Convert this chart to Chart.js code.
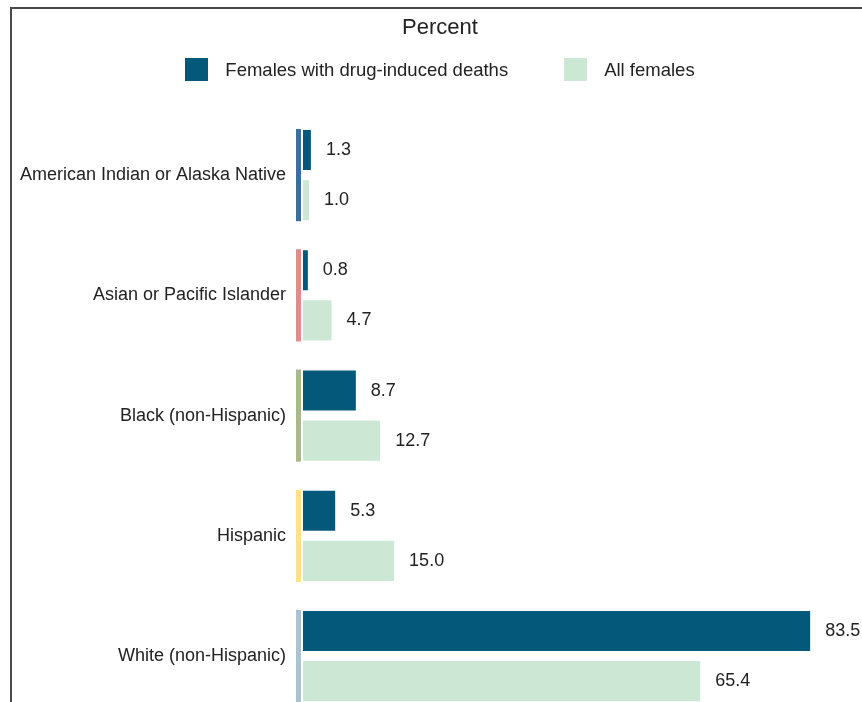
<!DOCTYPE html>
<html>
<head>
<meta charset="utf-8">
<script src="https://cdn.jsdelivr.net/npm/chart.js@4.4.1/dist/chart.umd.min.js"></script>
<style>
    body { margin: 0; width: 862px; height: 702px; overflow: hidden; background: #fff; font-family: "Liberation Sans", Arial, sans-serif; color: #222; }
    #frame { position: absolute; left: 10px; top: 7px; width: 1000px; height: 1000px; border: 2px solid #4a4a4a; }
    #title { position: absolute; left: 0; top: 0; width: 880px; height: 54px; line-height: 54px; text-align: center; font-size: 22px; }
    #legend { position: absolute; left: 0; top: 58px; width: 880px; height: 23px; display: flex; justify-content: center; align-items: center; font-size: 18.5px; }
    .item { display: flex; align-items: center; margin: 0 28px; }
    .swatch { width: 23px; height: 23px; margin-right: 17px; }
    #wrap { position: absolute; left: 0; top: 0; }
</style>
</head>
<body>
<div id="frame"></div>
<div id="wrap"><canvas id="chartRace" width="880" height="736"></canvas></div>
<div id="title">Percent</div>
<div id="legend"></div>
<script>
var categories = ["American Indian or Alaska Native", "Asian or Pacific Islander", "Black (non-Hispanic)", "Hispanic", "White (non-Hispanic)"];
var drugDeaths = [1.3, 0.8, 8.7, 5.3, 83.5];
var allFemales = [1.0, 4.7, 12.7, 15.0, 65.4];
var seriesNames = ["Females with drug-induced deaths", "All females"];
var seriesColors = ["#04597a", "#cde7d5"];
var groupColors = ["#3b6fa0", "#e28b8b", "#a9b98b", "#fde28a", "#a9c3d0"];

// legend in html
var legendBox = document.getElementById('legend');
for (var i = 0; i < seriesNames.length; i++) {
    var item = document.createElement('div');
    item.className = 'item';
    item.innerHTML = '<span class="swatch" style="background:' + seriesColors[i] + '"></span><span>' + seriesNames[i] + '</span>';
    legendBox.appendChild(item);
}

// coloured strip left of each group
var groupStrips = {
    id: 'groupStrips',
    afterDatasetsDraw: function (chart) {
        var ctx = chart.ctx;
        var first = chart.getDatasetMeta(0).data;
        var last = chart.getDatasetMeta(1).data;
        var left = chart.chartArea.left;
        for (var i = 0; i < categories.length; i++) {
            var top = first[i].y - first[i].height / 2 - 1;
            var bottom = last[i].y + last[i].height / 2 + 1;
            ctx.fillStyle = groupColors[i];
            ctx.fillRect(left - 7, top, 5, bottom - top);
        }
    }
};

var valueLabels = {
    id: 'valueLabels',
    afterDatasetsDraw: function (chart) {
        var ctx = chart.ctx;
        ctx.save();
        ctx.font = '18px "Liberation Sans", Arial, sans-serif';
        ctx.fillStyle = '#222';
        ctx.textBaseline = 'middle';
        chart.data.datasets.forEach(function (ds, d) {
            chart.getDatasetMeta(d).data.forEach(function (bar, i) {
                ctx.fillText(ds.data[i].toFixed(1), bar.x + 15, bar.y);
            });
        });
        ctx.restore();
    }
};

new Chart("chartRace", {
    type: "bar",
    data: {
        labels: categories,
        datasets: [
            { label: seriesNames[0], data: drugDeaths, backgroundColor: seriesColors[0] },
            { label: seriesNames[1], data: allFemales, backgroundColor: seriesColors[1] }
        ]
    },
    options: {
        indexAxis: 'y',
        responsive: false,
        animation: false,
        barPercentage: 0.8,
        categoryPercentage: 100 / 120,
        layout: { padding: { top: 115, bottom: 0, left: 0, right: 0 } },
        plugins: {
            legend: { display: false },
            title: { display: false },
            tooltip: { enabled: false }
        },
        scales: {
            x: { display: false, min: 0, max: 95 },
            y: {
                grid: { display: false },
                border: { display: false },
                ticks: {
                    padding: 9,
                    color: '#222',
                    font: { family: '"Liberation Sans", Arial, sans-serif', size: 18 }
                },
                afterFit: function (scale) { scale.width = 303; }
            }
        }
    },
    plugins: [groupStrips, valueLabels]
});
</script>
</body>
</html>
